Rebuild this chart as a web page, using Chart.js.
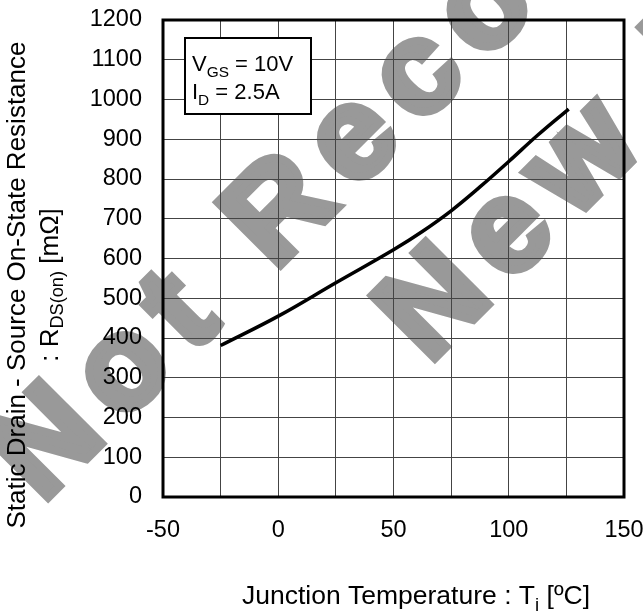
<!DOCTYPE html>
<html>
<head>
<meta charset="utf-8">
<script src="https://cdn.jsdelivr.net/npm/chart.js@4.4.1/dist/chart.umd.min.js"></script>
<style>
  html, body { margin: 0; padding: 0; background: #fff; }
  canvas { display: block; }
</style>
</head>
<body>
<canvas id="rdsChart" width="643" height="611"></canvas>
<script>
// Values
const tempC = [-25, 0, 25, 50, 62.5, 75, 87.5, 100, 112.5, 126]
const rdsOn = [381, 455, 539, 622, 668, 720, 780, 844, 910, 976]
const xTickLabels = [-50, 0, 50, 100, 150]
const yTickLabels = [0, 100, 200, 300, 400, 500, 600, 700, 800, 900, 1000, 1100, 1200]

const FONT = "'Liberation Sans', Arial, Helvetica, sans-serif"

// draws text made of parts, some of them subscripts
function drawParts(ctx, parts, x, y, size, align) {
    let total = 0
    parts.forEach(p => {
        ctx.font = (p.sub ? size * 0.7 : size) + "px " + FONT
        total += ctx.measureText(p.t).width
    })
    let cx = align === 'center' ? x - total / 2 : x
    ctx.textAlign = 'left'
    parts.forEach(p => {
        ctx.font = (p.sub ? size * 0.7 : size) + "px " + FONT
        ctx.fillText(p.t, cx, p.sub ? y + size * 0.25 : y)
        cx += ctx.measureText(p.t).width
    })
}

const decorPlugin = {
    id: 'decor',
    beforeDraw(chart) {
        const ctx = chart.ctx
        ctx.save()
        ctx.fillStyle = '#fff'
        ctx.fillRect(0, 0, chart.width, chart.height)
        // watermark, heavy grey lettering
        ctx.fillStyle = 'rgb(153,153,153)'
        ctx.strokeStyle = 'rgb(153,153,153)'
        ctx.lineWidth = 8
        ctx.lineJoin = 'miter'
        ctx.font = "bold 130px " + FONT
        ctx.letterSpacing = '19px'
        ctx.textBaseline = 'alphabetic'
        ctx.textAlign = 'left'
        ctx.translate(42, 504)
        ctx.rotate(-Math.PI / 4)
        ctx.fillText('Not Recommended', 0, 0)
        ctx.strokeText('Not Recommended', 0, 0)
        ctx.fillText('New Design', 372, 175)
        ctx.strokeText('New Design', 372, 175)
        ctx.restore()
    },
    afterDraw(chart) {
        const ctx = chart.ctx
        const a = chart.chartArea
        ctx.save()
        // frame
        ctx.strokeStyle = '#000'
        ctx.lineWidth = 3
        ctx.strokeRect(a.left, a.top, a.right - a.left, a.bottom - a.top)

        // condition box
        ctx.fillStyle = '#fff'
        ctx.fillRect(185, 38, 126, 76)
        ctx.lineWidth = 2
        ctx.strokeRect(185, 38, 126, 76)
        ctx.fillStyle = '#000'
        ctx.textBaseline = 'alphabetic'
        drawParts(ctx, [{ t: 'V' }, { t: 'GS', sub: true }, { t: ' = 10V' }], 192, 71, 22, 'left')
        drawParts(ctx, [{ t: 'I' }, { t: 'D', sub: true }, { t: ' = 2.5A' }], 192, 99, 22, 'left')

        // x axis title
        drawParts(ctx, [{ t: 'Junction Temperature : T' }, { t: 'j', sub: true }, { t: ' [ºC]' }], 416, 604, 26.5, 'center')

        // y axis title
        ctx.translate(0, 285)
        ctx.rotate(-Math.PI / 2)
        ctx.textBaseline = 'middle'
        drawParts(ctx, [{ t: 'Static Drain - Source On-State Resistance' }], 0, 18, 26, 'center')
        drawParts(ctx, [{ t: ': R' }, { t: 'DS(on)', sub: true }, { t: ' [mΩ]' }], 0, 51, 26, 'center')
        ctx.restore()
    }
}

new Chart(document.querySelector('#rdsChart'), {
    type: 'line',
    data: {
        datasets: [{
            data: tempC.map((t, i) => ({ x: t, y: rdsOn[i] })),
            borderColor: '#000',
            borderWidth: 3.5,
            pointRadius: 0,
            tension: 0.4,
            fill: false
        }]
    },
    options: {
        responsive: false,
        animation: false,
        layout: { padding: { top: 20, right: 19, left: 0, bottom: 0 } },
        plugins: { legend: { display: false }, tooltip: { enabled: false } },
        scales: {
            x: {
                type: 'linear',
                min: -50,
                max: 150,
                afterFit: s => {
                    s.height = 114
                    s.paddingLeft = 0
                    s.paddingRight = 0
                },
                afterBuildTicks: s => {
                    s.ticks = []
                    for (let v = -50; v <= 150; v += 25) s.ticks.push({ value: v })
                },
                ticks: {
                    autoSkip: false,
                    maxRotation: 0,
                    padding: 19,
                    color: '#000',
                    font: { size: 23.5, family: FONT },
                    callback: v => xTickLabels.includes(v) ? String(v) : ''
                },
                grid: { color: '#444', lineWidth: 1, drawTicks: false },
                border: { display: false }
            },
            y: {
                min: 0,
                max: 1200,
                afterFit: s => {
                    s.width = 163
                    s.paddingTop = 0
                    s.paddingBottom = 0
                },
                afterBuildTicks: s => { s.ticks = yTickLabels.map(v => ({ value: v })) },
                ticks: {
                    autoSkip: false,
                    padding: 21,
                    color: '#000',
                    font: { size: 23.5, family: FONT },
                    callback: v => String(v)
                },
                grid: { color: '#444', lineWidth: 1, drawTicks: false },
                border: { display: false }
            }
        }
    },
    plugins: [decorPlugin]
})
</script>
</body>
</html>
